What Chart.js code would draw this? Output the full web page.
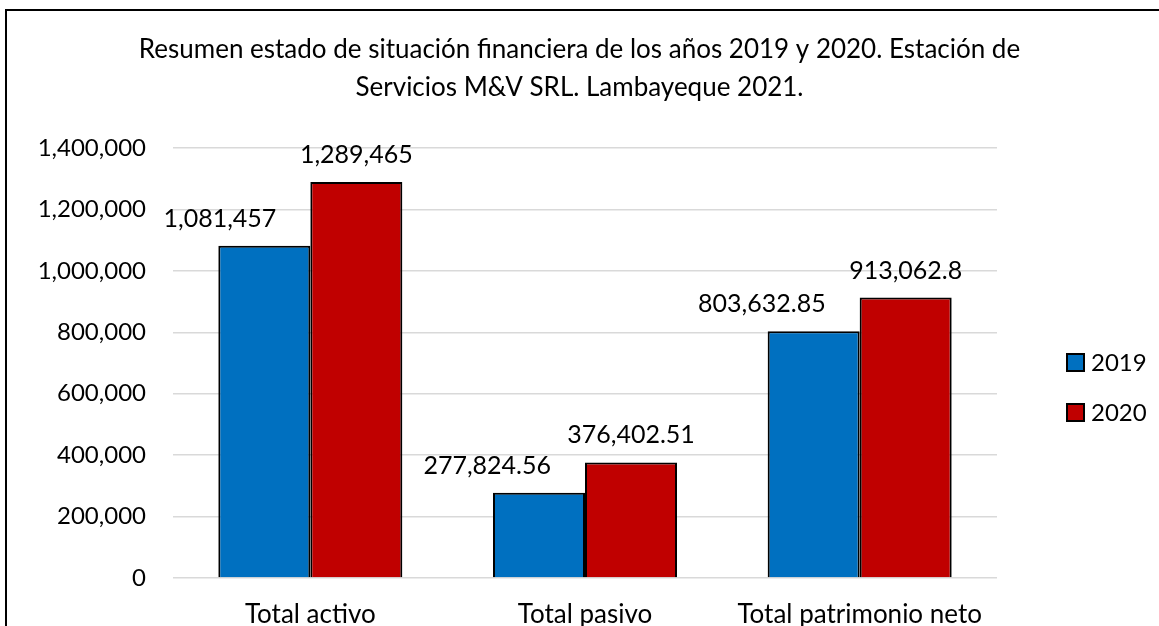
<!DOCTYPE html>
<html>
<head>
<meta charset="utf-8">
<script src="https://cdn.jsdelivr.net/npm/chart.js@4"></script>
<style>
  html, body { margin: 0; padding: 0; overflow: hidden; background: #fff; }
  #marco { position: absolute; left: 5px; top: 9px; width: 2000px; height: 2000px;
           border: 2px solid #000; pointer-events: none; }
</style>
</head>
<body>
<canvas id="grafico" width="1159" height="626"></canvas>
<div id="marco"></div>
<script>
// Datos
const categorias = ["Total activo", "Total pasivo", "Total patrimonio neto"];
const anios = ["2019", "2020"];
const valores2019 = [1081457, 277824.56, 803632.85];
const valores2020 = [1289465, 376402.51, 913062.8];
const ticksY = [0, 200000, 400000, 600000, 800000, 1000000, 1200000, 1400000];
const titulo = [
  "Resumen estado de situación financiera de los años 2019 y 2020. Estación de",
  "Servicios M&V SRL. Lambayeque 2021.",
];

const FUENTE = "Lato, 'Open Sans', sans-serif";
const formato = (v) => v.toLocaleString("en-US", { maximumFractionDigits: 2 });

// Etiquetas de datos sobre las barras
const etiquetasBarras = {
  id: "etiquetasBarras",
  afterDatasetsDraw(chart) {
    const ctx = chart.ctx;
    ctx.save();
    ctx.font = "25px " + FUENTE;
    ctx.fillStyle = "#000";
    ctx.textBaseline = "middle";
    chart.data.datasets.forEach((ds, i) => {
      chart.getDatasetMeta(i).data.forEach((barra, j) => {
        if (i === 0) {
          ctx.textAlign = "right";
          ctx.fillText(formato(ds.data[j]), barra.x + 12, barra.y - 27);
        } else {
          ctx.textAlign = "center";
          ctx.fillText(formato(ds.data[j]), barra.x, barra.y - 27);
        }
      });
    });
    ctx.restore();
  },
};

// Leyenda a la derecha
const leyenda = {
  id: "leyenda",
  afterDraw(chart) {
    const ctx = chart.ctx;
    ctx.save();
    ctx.font = "24px " + FUENTE;
    ctx.textAlign = "left";
    ctx.textBaseline = "middle";
    chart.data.datasets.forEach((ds, i) => {
      const yc = 362 + i * 50;
      ctx.fillStyle = ds.backgroundColor;
      ctx.fillRect(1067, yc - 8, 17, 17);
      ctx.strokeStyle = "#000";
      ctx.lineWidth = 2;
      ctx.strokeRect(1067, yc - 8, 17, 17);
      ctx.fillStyle = "#000";
      ctx.fillText(ds.label, 1091, yc + 1);
    });
    ctx.restore();
  },
};

const ctx = document.querySelector("#grafico").getContext("2d");

new Chart(ctx, {
  type: "bar",
  data: {
    labels: categorias,
    datasets: [
      {
        label: anios[0],
        data: valores2019,
        backgroundColor: "#0070C0",
        borderColor: "#000",
        borderWidth: 2,
      },
      {
        label: anios[1],
        data: valores2020,
        backgroundColor: "#C00000",
        borderColor: "#000",
        borderWidth: 2,
      },
    ],
  },
  options: {
    responsive: false,
    animation: false,
    layout: { padding: 0 },
    datasets: {
      bar: { barPercentage: 1, categoryPercentage: 0.67 },
    },
    scales: {
      x: {
        grid: { display: false },
        border: { display: false },
        ticks: { color: "#000", font: { family: FUENTE, size: 26 }, padding: 13 },
        afterFit: (escala) => { escala.height = 48; },
      },
      y: {
        min: 0,
        max: ticksY[ticksY.length - 1],
        afterBuildTicks: (escala) => { escala.ticks = ticksY.map((v) => ({ value: v })); },
        grid: { color: "#d9d9d9", lineWidth: 1.5, drawTicks: false },
        border: { display: false },
        ticks: {
          color: "#000",
          font: { family: FUENTE, size: 24 },
          padding: 27,
          callback: (v) => formato(v),
        },
        afterFit: (escala) => { escala.width = 173; },
      },
      // espacio reservado para la leyenda (sin marcas)
      espacioLeyenda: {
        type: "linear",
        position: "right",
        display: true,
        grid: { display: false },
        border: { display: false },
        ticks: { display: false },
        afterFit: (escala) => { escala.width = 162; },
      },
    },
    plugins: {
      legend: { display: false },
      tooltip: { enabled: false },
      title: {
        display: true,
        text: titulo,
        color: "#000",
        font: { family: FUENTE, size: 26, weight: "normal", lineHeight: 38 / 26 },
        padding: { top: 31, bottom: 41 },
      },
    },
  },
  plugins: [etiquetasBarras, leyenda],
});
</script>
</body>
</html>
